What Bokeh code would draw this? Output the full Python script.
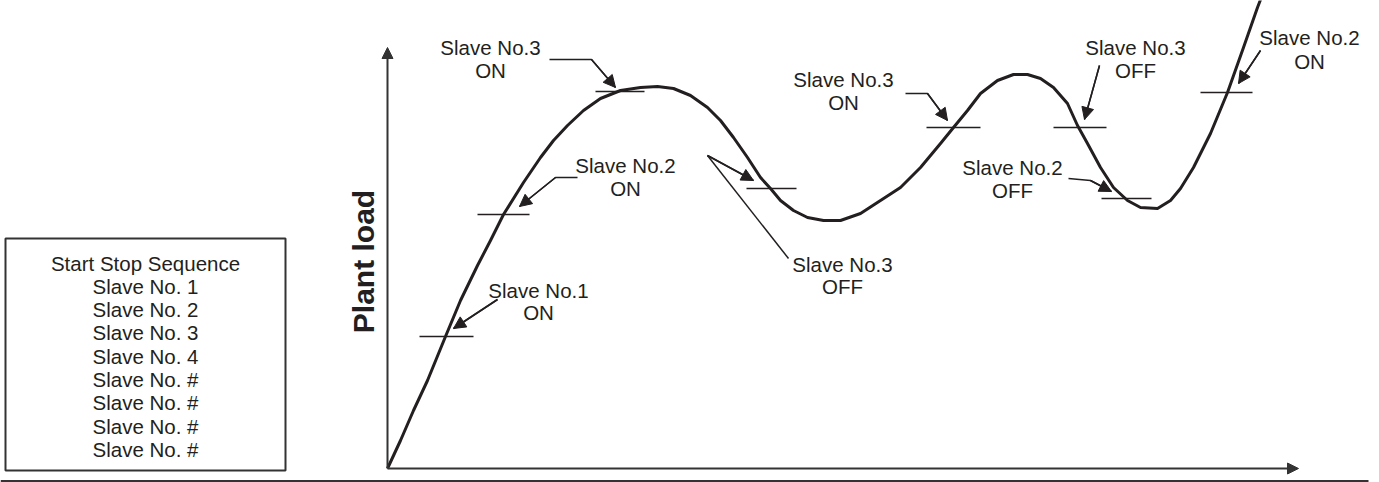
from bokeh.plotting import figure
from bokeh.models import Range1d, Arrow, NormalHead, ColumnDataSource
from bokeh.core.properties import value
from bokeh.embed import file_html
from bokeh.resources import INLINE

# ---- data (time t, plant load L) ----
curve_t = [0, 13, 26, 40, 58, 73, 90, 103, 116, 136, 153, 166, 180, 196, 213, 233, 253, 270,
           286, 303, 320, 333, 346, 360, 373, 383, 393, 406, 420, 436, 453, 473, 493, 513,
           533, 553, 566, 580, 593, 610, 626, 640, 653, 666, 680, 690, 700, 713, 726, 740,
           753, 770, 783, 793, 806, 823, 840, 856, 870, 875]
curve_L = [0, 28, 58, 88, 132, 168, 203, 228, 254, 286, 311, 328, 343, 358, 370, 378, 381, 382,
           380, 373, 361, 348, 331, 311, 291, 280, 268, 258, 251, 248, 248, 255, 268, 281,
           301, 325, 341, 358, 375, 388, 394, 394, 390, 381, 365, 343, 325, 301, 281, 268,
           261, 260, 268, 280, 301, 335, 376, 421, 461, 474]

# switching thresholds (horizontal ticks)
tick_L = [132, 254, 377, 280, 341, 341, 270, 376]
tick_t0 = [32, 90, 208, 359, 539, 666, 714, 813]
tick_t1 = [86, 142, 257, 409, 593, 719, 764, 865]

# annotation leader paths (last segment carries the arrow head)
lead_t = [[162, 204, 228], [190, 168, 132], [110, 66], [320, 366],
          [518, 540, 560], [712, 697], [681, 703, 724], [873, 851]]
lead_L = [[409, 409, 381], [291, 291, 262], [169, 140], [313, 288],
          [375, 375, 348], [403, 349], [290, 288, 277], [418, 385]]
extra_t = [320, 401]
extra_L = [313, 210]

label_t = [103, 238, 151, 455, 456, 748, 625, 922]
label_L1 = [421, 303, 178, 204, 389, 421, 301, 431]
label_L2 = [398, 280, 156, 182, 366, 398, 278, 407]
label_text1 = ["Slave No.3", "Slave No.2", "Slave No.1", "Slave No.3",
               "Slave No.3", "Slave No.3", "Slave No.2", "Slave No.2"]
label_text2 = ["ON", "ON", "ON", "OFF", "ON", "OFF", "OFF", "ON"]

box_lines = ["Start Stop Sequence", "Slave No. 1", "Slave No. 2", "Slave No. 3",
             "Slave No. 4", "Slave No. #", "Slave No. #", "Slave No. #", "Slave No. #"]
box_L = [205, 182.5, 159, 136, 112, 89, 66, 42, 19]
box_t = -242

y_title = "Plant load"

INK = "#231f20"
AX = "#333333"
FONT = value("Liberation Sans")

p = figure(width=1379, height=482, output_backend="svg", toolbar_location=None,
           x_range=Range1d(-387, 992), y_range=Range1d(-14, 468),
           min_border=0, outline_line_color=None, background_fill_color="white")
p.axis.visible = False
p.grid.visible = False

# axes with arrows
p.add_layout(Arrow(x_start=0, y_start=0, x_end=0, y_end=421, line_width=2, line_color=AX,
                   end=NormalHead(size=11, fill_color=AX, line_color=AX)))
p.add_layout(Arrow(x_start=0, y_start=0, x_end=911, y_end=0, line_width=2, line_color=AX,
                   end=NormalHead(size=11, fill_color=AX, line_color=AX)))
# bottom rule
p.line([-387, 981], [-12.5, -12.5], line_width=2, line_color=AX)

# load curve
p.line(curve_t, curve_L, line_width=3, line_color=INK, line_join="round")

# ticks
p.segment(x0=tick_t0, y0=tick_L, x1=tick_t1, y1=tick_L, line_width=1.5, line_color=INK)

# leader lines
p.multi_line(lead_t, lead_L, line_width=1.5, line_color=INK)
p.line(extra_t, extra_L, line_width=1.5, line_color=INK)
heads = ColumnDataSource(dict(
    xs=[t[-2] for t in lead_t], ys=[l[-2] for l in lead_L],
    xe=[t[-1] for t in lead_t], ye=[l[-1] for l in lead_L]))
p.add_layout(Arrow(x_start="xs", y_start="ys", x_end="xe", y_end="ye", source=heads,
                   line_width=1.5, line_color=INK,
                   end=NormalHead(size=12, fill_color=INK, line_color=INK)))

# labels
p.text(x=label_t, y=label_L1, text=label_text1, text_align="center", text_baseline="middle",
       text_font=FONT, text_font_size="20.5px", text_color=INK)
p.text(x=label_t, y=label_L2, text=label_text2, text_align="center", text_baseline="middle",
       text_font=FONT, text_font_size="20.5px", text_color=INK)

# y title
p.text(x=[-24], y=[207], text=[y_title], angle=1.5708, text_align="center",
       text_baseline="middle", text_font=FONT, text_font_style="bold",
       text_font_size="30px", text_color=INK)

# sequence box
p.quad(left=[-382], right=[-102], top=[230], bottom=[-2], fill_color=None,
       line_color=AX, line_width=2)
p.text(x=[box_t] * len(box_lines), y=box_L, text=box_lines, text_align="center",
       text_baseline="middle", text_font=FONT, text_font_size="20.5px", text_color=INK)

open("out.html", "w").write(file_html(p, INLINE))
